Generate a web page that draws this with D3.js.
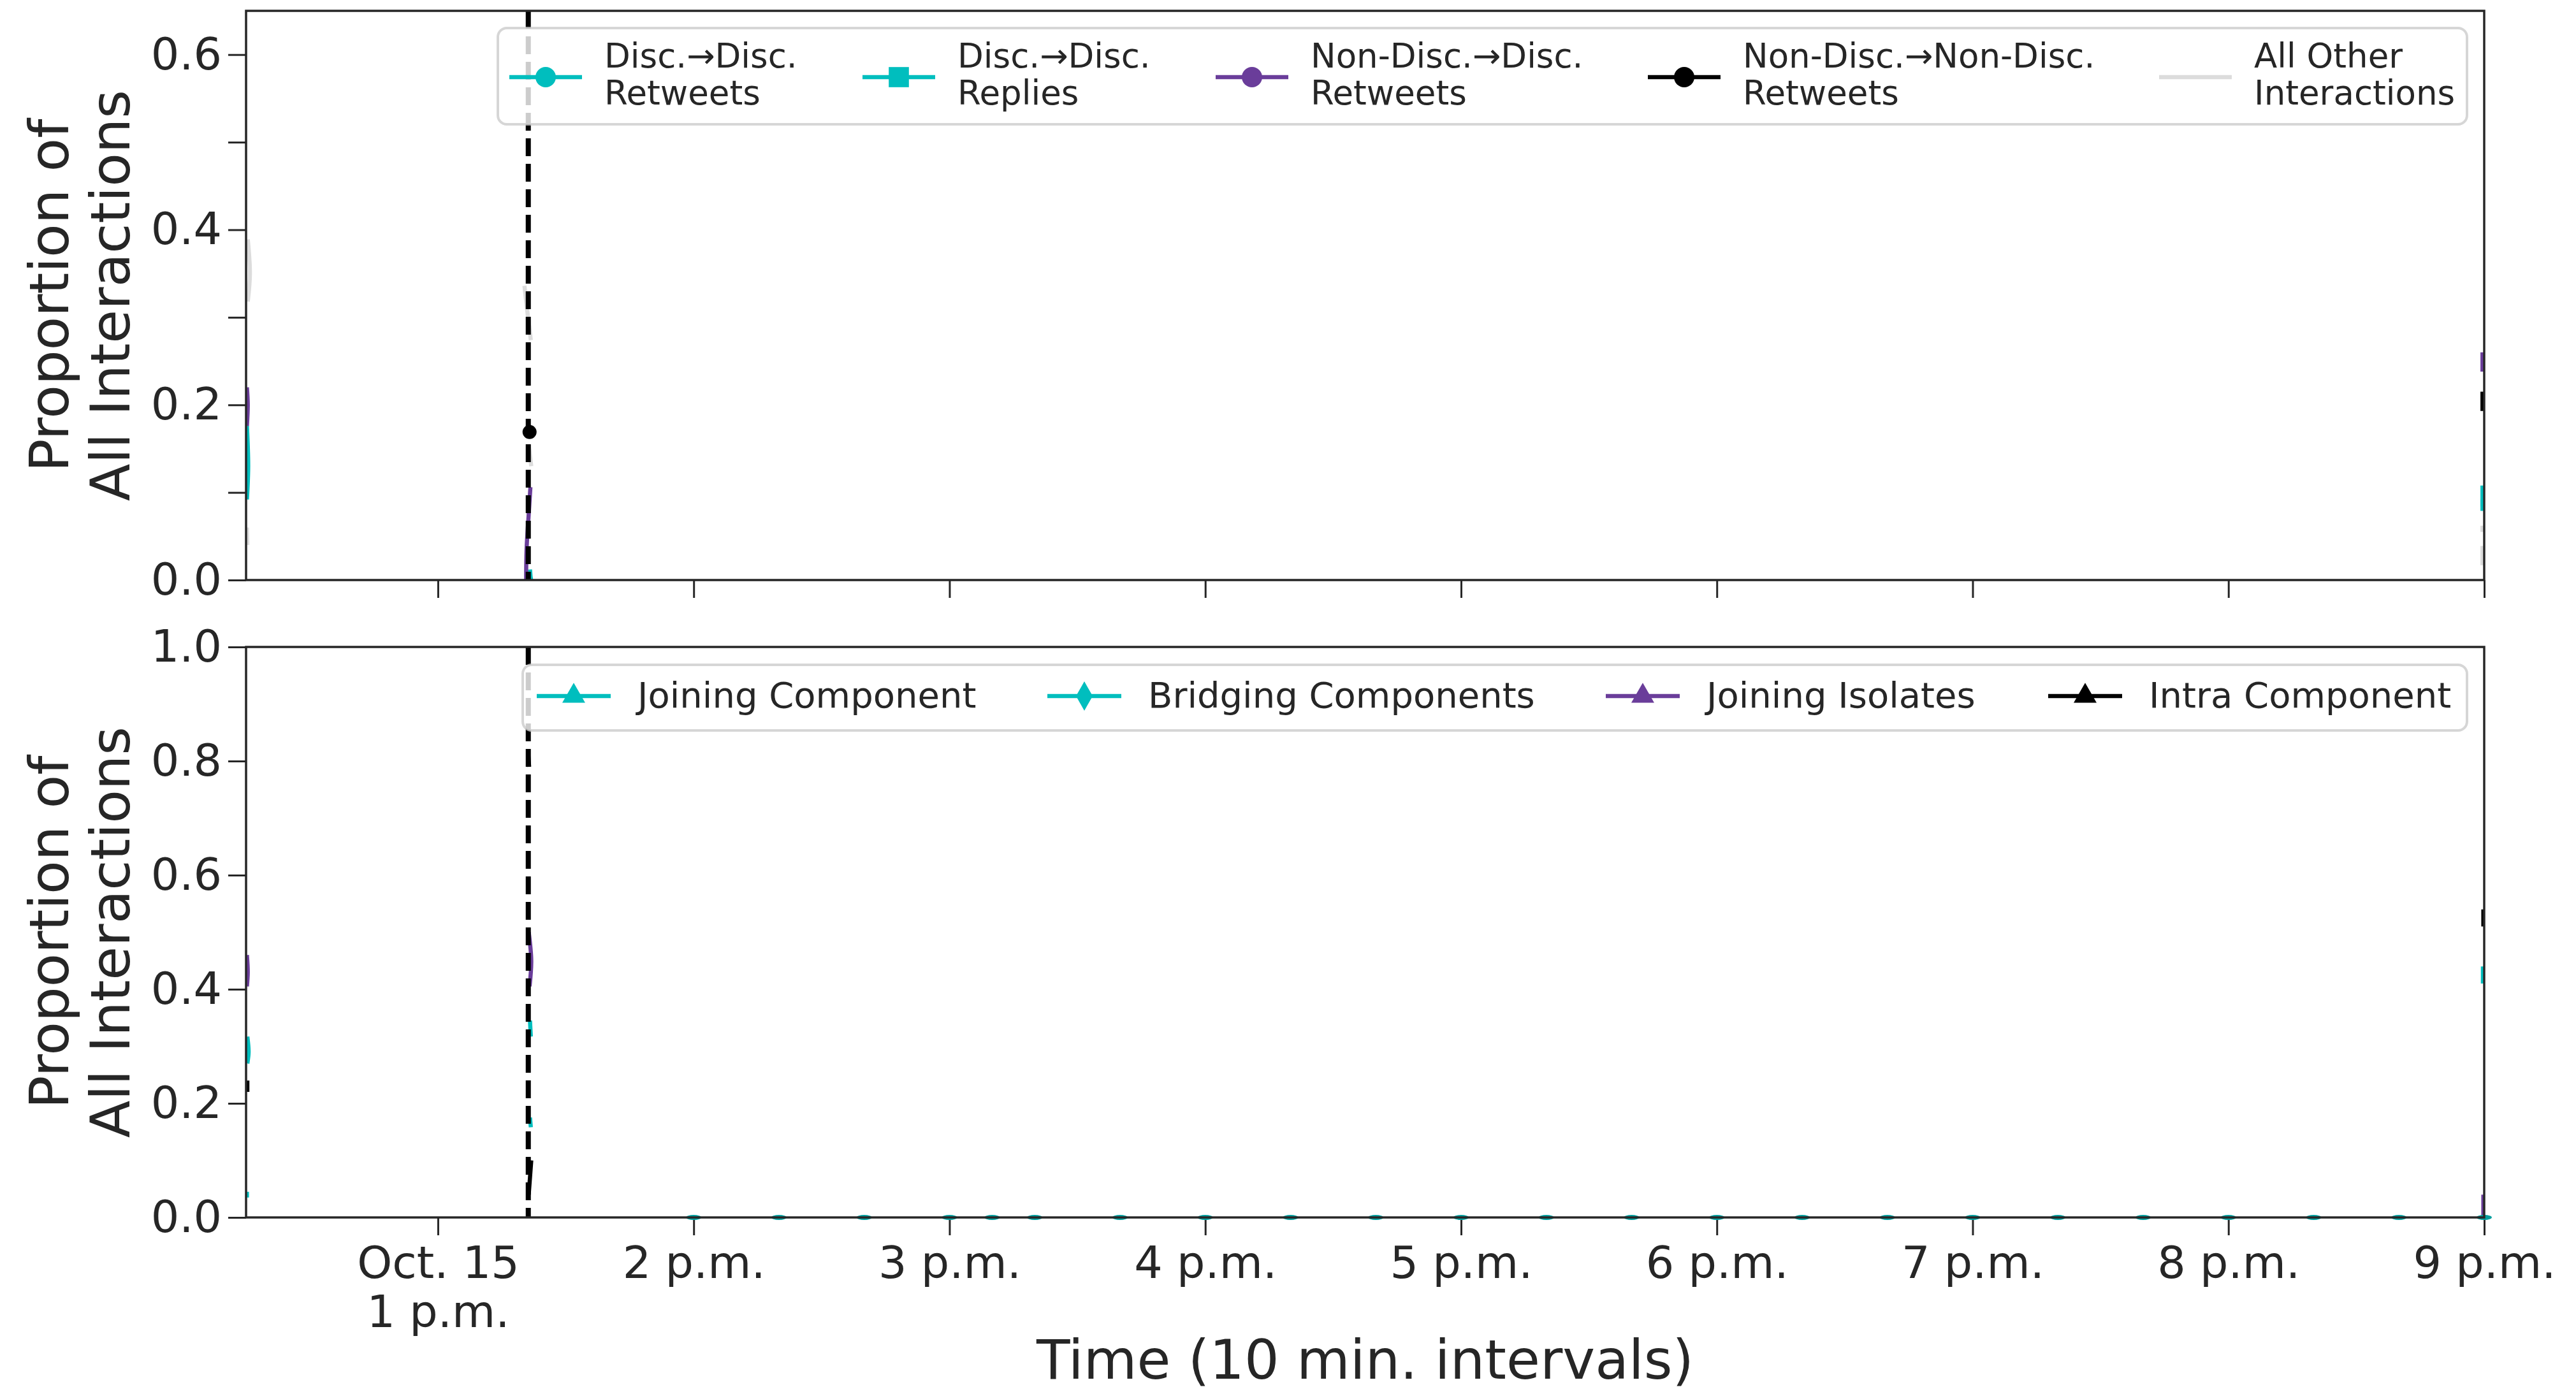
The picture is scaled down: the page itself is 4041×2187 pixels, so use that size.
<!DOCTYPE html>
<html><head><meta charset="utf-8">
<script src="https://cdn.jsdelivr.net/npm/d3@7"></script>
<style>
body{margin:0;background:#fff}
svg text{font-family:"DejaVu Sans",sans-serif;fill:#262626}
</style></head>
<body><svg id="chart" width="4041" height="2187"></svg>
<script>
// ---------------- DATA ----------------
// time in minutes after 12:00 (noon), Oct. 15
const xDomainMinutes = [15, 540];
const xTickMinutes = [60, 120, 180, 240, 300, 360, 420, 480, 540];
const xTickLabels = ["Oct. 15|1 p.m.", "2 p.m.", "3 p.m.", "4 p.m.", "5 p.m.", "6 p.m.", "7 p.m.", "8 p.m.", "9 p.m."];
const eventMinute = 81.2;

const topYTicks = [0, 0.1, 0.2, 0.3, 0.4, 0.5, 0.6];
const topYLabeled = [0, 0.2, 0.4, 0.6];
const topYMax = 0.65;
const botYTicks = [0, 0.2, 0.4, 0.6, 0.8, 1.0];
const botYMax = 1.0;

// top panel series: [minute, proportion], null = gap
const discDiscRetweets = [[15.2,0.176],[15.5,0.13],[15.2,0.092],null,[81.6,0.012],[81.8,0.0],null,[539.6,0.108],[539.6,0.079]];
const discDiscReplies = [[81.5,0.006],[81.9,0.0],null,[539.6,0.092],[539.6,0.084]];
const nonDiscDiscRetweets = [[15.2,0.22],[15.4,0.2],[15.2,0.176],null,[80.7,0.0],[80.8,0.035],[81.3,0.075],[81.7,0.106],null,[539.6,0.26],[539.6,0.238]];
const nonNonRetweets = [[81.3,0.177],[81.5,0.162],null,[539.6,0.215],[539.6,0.193]];
const nonNonMarkers = [[81.5,0.169]];
const allOther = [[15.4,0.389],[15.9,0.35],[15.4,0.318],null,[15.2,0.06],[15.3,0.04],null,[80.3,0.336],[80.9,0.31],[81.8,0.274],null,[81.3,0.154],[81.9,0.13],null,[539.6,0.062],[539.6,0.055],null,[539.6,0.039],[539.6,0.017]];

// bottom panel series
const joiningComponent = [[15.3,0.317],[15.6,0.29],[15.3,0.27],null,[81.6,0.345],[81.8,0.317],null,[539.7,0.44],[539.7,0.41]];
const joiningComponentZeros = [120,140,160,180,190,200,220,240,260,280,300,320,340,360,380,400,420,440,460,480,500,520,540];
const bridgingComponents = [[15.2,0.045],[15.2,0.035],null,[81.6,0.175],[81.8,0.158]];
const joiningIsolates = [[15.2,0.46],[15.4,0.43],[15.2,0.405],null,[81.3,0.5],[81.9,0.45],[81.5,0.405],null,[539.8,0.04],[539.8,0.0]];
const intraComponent = [[15.3,0.24],[15.3,0.22],null,[81.2,0.81],[81.4,0.79],null,[81.9,0.1],[81.3,0.04],null,[539.8,0.54],[539.8,0.51]];

const teal = "#00BEBE", purple = "#6A3D9A", black = "#000000", lightGrey = "#DCDCDC";

const topLegendLabels = [["Disc.→Disc.","Retweets"],["Disc.→Disc.","Replies"],["Non-Disc.→Disc.","Retweets"],["Non-Disc.→Non-Disc.","Retweets"],["All Other","Interactions"]];
const topLegendColors = [teal, teal, purple, black, lightGrey];
const topLegendMarkers = ["circle","square","circle","circle",null];
const topSeries = [discDiscRetweets, discDiscReplies, nonDiscDiscRetweets, nonNonRetweets, allOther];

const botLegendLabels = ["Joining Component","Bridging Components","Joining Isolates","Intra Component"];
const botLegendColors = [teal, teal, purple, black];
const botLegendMarkers = ["triangle","thindiamond","triangle","triangle"];
const botSeries = [joiningComponent, bridgingComponents, joiningIsolates, intraComponent];

// ---------------- LAYOUT ----------------
const L = 386, R = 3897;
const topPanel = {top: 17, bottom: 910};
const botPanel = {top: 1015, bottom: 1910};
const tickFont = 70, labelFont = 86;

const svg = d3.select("#chart");
const T0 = new Date(2019, 9, 15, 12, 0, 0);
const toDate = m => new Date(T0.getTime() + m * 60000);
const x = d3.scaleTime().domain(xDomainMinutes.map(toDate)).range([L, R]);
const yTop = d3.scaleLinear().domain([0, topYMax]).range([topPanel.bottom, topPanel.top]);
const yBot = d3.scaleLinear().domain([0, botYMax]).range([botPanel.bottom, botPanel.top]);

const defs = svg.append("defs");
[["clipTop", topPanel], ["clipBot", botPanel]].forEach(([id, p]) => {
  defs.append("clipPath").attr("id", id).append("rect")
    .attr("x", L).attr("y", p.top).attr("width", R - L).attr("height", p.bottom - p.top);
});

function styleAxis(g) {
  g.select(".domain").remove();
  g.attr("font-size", tickFont).attr("font-family", "DejaVu Sans").attr("color", "#262626");
  g.selectAll(".tick line").attr("stroke-width", 3);
}

function drawYAxis(y, ticks, labeled) {
  const g = svg.append("g").attr("transform", `translate(${L},0)`);
  g.call(d3.axisLeft(y).tickValues(ticks).tickSize(28).tickPadding(10)
    .tickFormat(d => labeled.some(v => Math.abs(v - d) < 1e-9) ? d3.format(".1f")(d) : ""));
  styleAxis(g);
}

function drawXAxis(yPos, withLabels) {
  const g = svg.append("g").attr("transform", `translate(0,${yPos})`);
  g.call(d3.axisBottom(x).tickValues(xTickMinutes.map(toDate)).tickSize(28).tickPadding(17)
    .tickFormat((d, i) => withLabels ? xTickLabels[i] : ""));
  styleAxis(g);
  if (withLabels) {
    g.selectAll(".tick text").each(function(d, i) {
      const t = d3.select(this);
      const lines = xTickLabels[i].split("|");
      t.text(null).attr("dy", null);
      lines.forEach((ln, j) => t.append("tspan").attr("x", 0).attr("dy", j === 0 ? "0.71em" : "1.1em").text(ln));
    });
  }
}

const lineGen = y => d3.line()
  .defined(d => d !== null)
  .x(d => x(toDate(d[0])))
  .y(d => y(d[1]))
  .curve(d3.curveCatmullRom);

function drawSeries(clipId, y, series, colors) {
  const g = svg.append("g").attr("clip-path", `url(#${clipId})`);
  series.forEach((s, i) => {
    g.append("path").datum(s)
      .attr("d", lineGen(y))
      .attr("fill", "none")
      .attr("stroke", colors[i])
      .attr("stroke-width", 6.5)
      .attr("stroke-linejoin", "round");
  });
  return g;
}

// top panel
drawYAxis(yTop, topYTicks, topYLabeled);
drawXAxis(topPanel.bottom, false);
const gTop = drawSeries("clipTop", yTop, topSeries, topLegendColors);
gTop.selectAll("circle.m").data(nonNonMarkers).enter().append("circle")
  .attr("cx", d => x(toDate(d[0]))).attr("cy", d => yTop(d[1])).attr("r", 11).attr("fill", black);

// bottom panel
drawYAxis(yBot, botYTicks, botYTicks);
drawXAxis(botPanel.bottom, true);
drawSeries("clipBot", yBot, botSeries, botLegendColors);
svg.append("g").selectAll("ellipse").data(joiningComponentZeros).enter().append("ellipse")
  .attr("cx", d => x(toDate(d))).attr("cy", yBot(0)).attr("rx", 12).attr("ry", 4).attr("fill", "#009E9E");

// event line
[topPanel, botPanel].forEach(p => {
  svg.append("line").attr("x1", x(toDate(eventMinute))).attr("x2", x(toDate(eventMinute)))
    .attr("y1", p.top).attr("y2", p.bottom)
    .attr("stroke", "#000").attr("stroke-width", 8).attr("stroke-dasharray", "28,12");
});

// ---------------- LEGENDS ----------------
function markerPath(kind) {
  if (kind === "circle") return d3.symbol(d3.symbolCircle, 804)();
  if (kind === "square") return d3.symbol(d3.symbolSquare, 1000)();
  if (kind === "triangle") return d3.symbol(d3.symbolTriangle, 560)();
  if (kind === "thindiamond") return "M0,-23L13,0L0,23L-13,0Z";
  return null;
}

function legendBox(x0, y0, x1, y1) {
  svg.append("rect").attr("x", x0).attr("y", y0).attr("width", x1 - x0).attr("height", y1 - y0)
    .attr("rx", 14).attr("fill", "#fff").attr("fill-opacity", 0.8)
    .attr("stroke", "#cccccc").attr("stroke-opacity", 0.8).attr("stroke-width", 4);
}

// top legend
legendBox(781, 44, 3870, 195);
const topTextX = [948, 1502, 2056, 2734, 3536];
const topHandleY = 121;
topLegendLabels.forEach((lab, i) => {
  const hx = topTextX[i] - 149;
  svg.append("line").attr("x1", hx).attr("x2", hx + 114).attr("y1", topHandleY).attr("y2", topHandleY)
    .attr("stroke", topLegendColors[i]).attr("stroke-width", 6.5);
  const mp = markerPath(topLegendMarkers[i]);
  if (mp) svg.append("path").attr("d", mp).attr("transform", `translate(${hx + 57},${topHandleY})`).attr("fill", topLegendColors[i]);
  const t = svg.append("text").attr("x", topTextX[i]).attr("y", 106).attr("font-size", 53);
  t.append("tspan").attr("x", topTextX[i]).text(lab[0]);
  t.append("tspan").attr("x", topTextX[i]).attr("dy", 58).text(lab[1]);
});

// bottom legend
legendBox(820, 1043, 3870, 1146);
const botTextX = [1000, 1801, 2677, 3371];
const botHandleY = 1092;
botLegendLabels.forEach((lab, i) => {
  const hx = botTextX[i] - 158;
  svg.append("line").attr("x1", hx).attr("x2", hx + 116).attr("y1", botHandleY).attr("y2", botHandleY)
    .attr("stroke", botLegendColors[i]).attr("stroke-width", 6.5);
  svg.append("path").attr("d", markerPath(botLegendMarkers[i]))
    .attr("transform", `translate(${hx + 58},${botHandleY})`).attr("fill", botLegendColors[i]);
  svg.append("text").attr("x", botTextX[i]).attr("y", 1110).attr("font-size", 56).text(lab);
});

// spines
[topPanel, botPanel].forEach(p => {
  svg.append("rect").attr("x", L).attr("y", p.top).attr("width", R - L).attr("height", p.bottom - p.top)
    .attr("fill", "none").attr("stroke", "#262626").attr("stroke-width", 3.5);
});

// axis titles
[topPanel, botPanel].forEach(p => {
  const cy = (p.top + p.bottom) / 2;
  svg.append("text").attr("transform", `translate(107,${cy}) rotate(-90)`).attr("text-anchor", "middle")
    .attr("font-size", labelFont).text("Proportion of");
  svg.append("text").attr("transform", `translate(203,${cy}) rotate(-90)`).attr("text-anchor", "middle")
    .attr("font-size", labelFont).text("All Interactions");
});
svg.append("text").attr("x", (L + R) / 2).attr("y", 2163).attr("text-anchor", "middle")
  .attr("font-size", labelFont).text("Time (10 min. intervals)");
</script>
</body></html>
